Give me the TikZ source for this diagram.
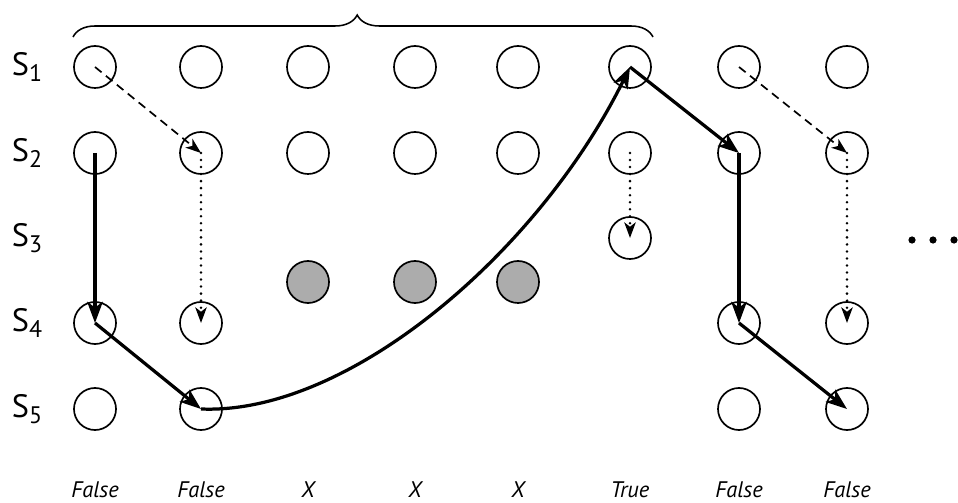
\documentclass[tikz,border=0pt]{standalone}
\usepackage{fontspec}
\setmainfont{PT Sans}
\usetikzlibrary{arrows.meta,decorations.pathreplacing}
\newcommand{\St}[1]{S\raisebox{-0.4ex}{\fontsize{17}{18}\selectfont #1}}

\begin{document}
\begin{tikzpicture}[>=Stealth,x=0.025cm,y=-0.025cm,
  st/.style={circle,draw,line width=1.2pt,minimum size=1.05cm,inner sep=0pt},
  dead/.style={st,fill=gray!65},
  rowlab/.style={font=\fontsize{23}{26}\selectfont},
  res/.style={font=\fontsize{16}{19}\selectfont\itshape},
  walk/.style={-{Stealth[length=15pt,width=11pt,inset=4pt]},line width=2.3pt},
  guess/.style={-{Stealth[length=11pt,width=8pt,inset=3pt]},line width=1.2pt,dash pattern=on 6pt off 4pt},
  fall/.style={-{Stealth[length=11pt,width=8pt,inset=3pt]},line width=2pt,line cap=round,dash pattern=on 0pt off 5pt}]
\useasboundingbox (0,0) rectangle (958,503);

% states
\foreach \c/\x in {1/95,2/201,3/308,4/415,5/518,6/630,7/739,8/847}{
  \node[st] (n\c-1) at (\x,67) {};
  \node[st] (n\c-2) at (\x,153) {};
}
\node[st] (n6-3) at (630,238) {};
\foreach \c/\x in {1/95,2/201,7/739,8/847}{
  \node[st] (n\c-4) at (\x,323) {};
  \node[st] (n\c-5) at (\x,409) {};
}
\foreach \c/\x in {3/308,4/415,5/518}
  \node[dead] (d\c) at (\x,282) {};

% row labels
\foreach \r/\y in {1/67,2/153,3/238,4/323,5/409}
  \node[rowlab] (s\r) at (27,\y) {\St{\r}};

% results
\foreach \c/\x/\t in {1/95/False,2/201/False,3/308/X,4/415/X,5/518/X,6/630/True,7/739/False,8/847/False}
  \node[res] (r\c) at (\x,490) {\t};

% brace over the first tries
\coordinate (bl) at (73,37);
\coordinate (br) at (653,37);
\draw[line width=1.1pt,decorate,decoration={brace,amplitude=0.55cm,aspect=0.49}] (bl) -- (br);

% walk
\draw[walk] (n1-2.center) -- (n1-4.center);
\draw[walk] (n1-4.center) -- (n2-5.center);
\draw[walk] (n2-5.center) .. controls (350,415) and (540,250) .. (n6-1.center);
\draw[walk] (n6-1.center) -- (n7-2.center);
\draw[walk] (n7-2.center) -- (n7-4.center);
\draw[walk] (n7-4.center) -- (n8-5.center);

% other moves
\draw[guess] (n1-1.center) -- (n2-2.center);
\draw[guess] (n7-1.center) -- (n8-2.center);
\draw[fall] (n2-2.center) -- (n2-4.center);
\draw[fall] (n6-2.center) -- (n6-3.center);
\draw[fall] (n8-2.center) -- (n8-4.center);

% more
\foreach \x in {912,933,954}
  \fill (\x,240) circle[radius=0.09cm];
\end{tikzpicture}
\end{document}
